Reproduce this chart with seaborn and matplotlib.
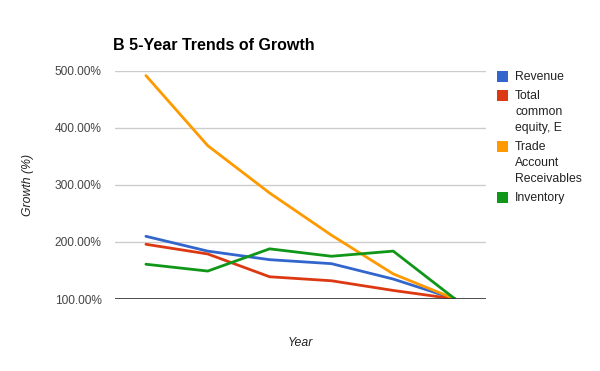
"""
B 5-Year Trends of Growth - line chart of growth indices (%) over years.
"""
import numpy as np
import pandas as pd
import seaborn as sns
import matplotlib.pyplot as plt
from matplotlib.patches import Rectangle
from matplotlib.ticker import FuncFormatter

years = ['1', '2', '3', '4', '5', '6']
revenue = [210, 184, 169, 162, 135, 100]
equity = [196, 179, 139, 132, 115, 100]
receivables = [492, 369, 286, 212, 144, 100]
inventory = [161, 149, 188, 175, 184, 100]

series_names = ['Revenue', 'Total common equity, E', 'Trade Account Receivables', 'Inventory']
legend_lines = [['Revenue'], ['Total', 'common', 'equity, E'],
                ['Trade', 'Account', 'Receivables'], ['Inventory']]
colors = ['#3366cc', '#dc3912', '#ff9900', '#109618']

df = pd.DataFrame({'Year': years * 4,
                   'Growth': revenue + equity + receivables + inventory,
                   'Series': np.repeat(series_names, len(years))})

sns.set_style('white')
plt.rcParams['font.family'] = ['Liberation Sans', 'DejaVu Sans']

W, H = 600, 371
fig = plt.figure(figsize=(W / 100, H / 100), dpi=100)
ax = fig.add_axes([115 / W, 1 - 299 / H, 371 / W, 228 / H])

sns.lineplot(data=df, x='Year', y='Growth', hue='Series', palette=colors,
             linewidth=2, ax=ax, legend=False, sort=False)

ax.set_xlim(-0.5, len(years) - 0.5)
ax.set_ylim(100, 500)
ax.set_yticks([100, 200, 300, 400, 500])
ax.yaxis.set_major_formatter(FuncFormatter(lambda v, p: f'{v:.2f}%'))
ax.set_xticks([])
ax.tick_params(axis='y', length=0, labelsize=8.6, labelcolor='#444444', pad=9.5)
ax.grid(axis='y', color='#cccccc', linewidth=1)
for s in ax.spines.values():
    s.set_visible(False)
ax.axhline(100, color='#333333', linewidth=1.2, zorder=3)

ax.set_xlabel('Year', fontsize=8.8, style='italic', color='#222222', labelpad=27)
ax.set_ylabel('Growth (%)', fontsize=8.8, style='italic', color='#222222', labelpad=15)

fig.text(113 / W, 1 - 45 / H, 'B 5-Year Trends of Growth', fontsize=11.5,
         fontweight='bold', color='#000000', va='center', ha='left')

# legend drawn by hand so wrapped labels sit with the square on the first line
y = 76.7
for lines, c in zip(legend_lines, colors):
    fig.patches.append(Rectangle((497 / W, 1 - (y + 5.5) / H), 11 / W, 11 / H,
                                 transform=fig.transFigure, facecolor=c,
                                 edgecolor='none'))
    for ln in lines:
        fig.text(515 / W, 1 - y / H, ln, fontsize=8.8, color='#222222',
                 va='center', ha='left')
        y += 16
    y += 3

fig.savefig('out.png', dpi=100)
